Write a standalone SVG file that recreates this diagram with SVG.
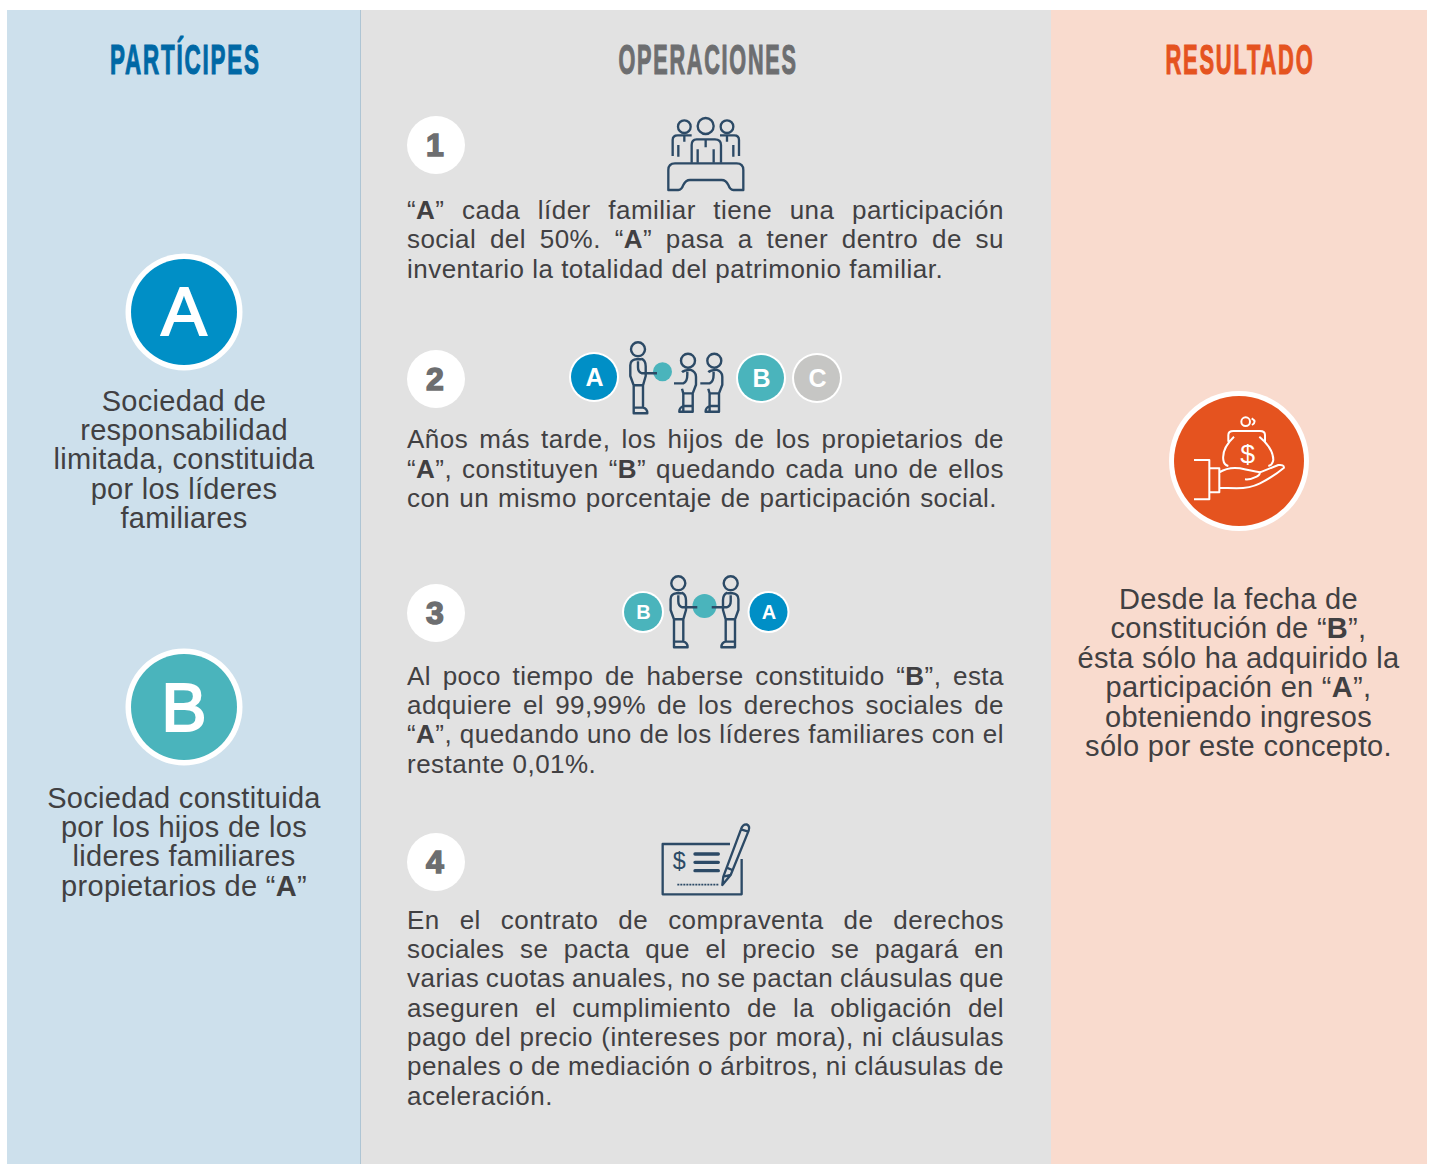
<svg xmlns="http://www.w3.org/2000/svg" width="1432" height="1164" viewBox="0 0 1432 1164">
<style>
text{font-family:"Liberation Sans",Arial,sans-serif}
.b{font-size:26px;letter-spacing:.48px;fill:#414042}
.c{text-anchor:middle;font-size:29px;letter-spacing:.3px}
.s{font-weight:700}
.t{font-size:43px;font-weight:700;letter-spacing:3.5px;stroke-width:1.2px}
.n{font-size:32px;font-weight:700;fill:#6d6e70;stroke:#6d6e70;stroke-width:1.5px;text-anchor:middle}
.w{fill:#fff;text-anchor:middle}
.big{stroke:#fff;stroke-width:2px}
.i{fill:none;stroke:#2c4a66;stroke-width:2.4px;stroke-linejoin:round}
.iz{fill:none;stroke:#2c4a66;stroke-width:7;stroke-linejoin:round}
.wz{fill:none;stroke:#fff;stroke-width:6;stroke-linejoin:round}
</style>
<defs>
<g id="adult" class="i"><circle cx="0" cy="0" r="7"/><path d="M-2.3,10Q-7.7,11-7.7,16V26.7L-4.3,36H5L7.7,26.7V17Q7.7,11 3.3,9.3M-2.3,10H3.3M0,12V18Q0,23 4,24H19M-4.3,36V64H9.3Q9.3,59 5,58.3V36M-4.3,58.3H5"/></g>
<g id="child" class="i"><circle cx="0" cy="0" r="7"/><path d="M-6,11.5Q-4,9.5 2,9Q8,11 8,16V24L4.7,32.7H-4.7L-6,28M-14,22.7H-4.7Q-.7,21-.7,14V11M-4.7,32.7V51H4.7V32.7M-4.7,45.3H4.7M-4.7,45.3Q-8.7,47-8.7,51H-4.7"/></g>
</defs>

<g id="backgrounds">
<rect x="7" y="10" width="354" height="1154" fill="#cde0ec"/>
<rect x="360" y="10" width="1" height="1154" fill="#aec5d4"/>
<rect x="361" y="10" width="690" height="1154" fill="#e2e2e2"/>
<rect x="1051" y="10" width="376" height="1154" fill="#f9dbce"/>
</g>

<g id="titles">
<text class="t" transform="translate(110 74.4) scale(.52 1)" fill="#0068a5" stroke="#0068a5">PARTÍCIPES</text>
<text class="t" transform="translate(618.5 74.4) scale(.503 1)" fill="#6d6e70" stroke="#6d6e70">OPERACIONES</text>
<text class="t" transform="translate(1165.5 74.4) scale(.509 1)" fill="#e5531f" stroke="#e5531f">RESULTADO</text>
</g>

<g id="node-a">
<circle cx="184" cy="312" r="58.5" fill="#fff"/><circle cx="184" cy="312" r="53" fill="#008fc6"/>
<text class="w big" x="184" y="335" font-size="68">A</text>
<text class="b c" x="184" y="411">Sociedad de</text>
<text class="b c" x="184" y="440">responsabilidad</text>
<text class="b c" x="184" y="469">limitada, constituida</text>
<text class="b c" x="184" y="499">por los líderes</text>
<text class="b c" x="184" y="528">familiares</text>
</g>

<g id="node-b">
<circle cx="184" cy="707" r="58.5" fill="#fff"/><circle cx="184" cy="707" r="53" fill="#4ab4bc"/>
<text class="w big" x="184" y="731" font-size="68">B</text>
<text class="b c" x="184" y="808">Sociedad constituida</text>
<text class="b c" x="184" y="837">por los hijos de los</text>
<text class="b c" x="184" y="866">lideres familiares</text>
<text class="b c" x="184" y="896">propietarios de “<tspan class="s">A</tspan>”</text>
</g>

<g id="step-1">
<circle cx="436" cy="145" r="29" fill="#fff"/><text class="n" x="435" y="156">1</text>
<g transform="translate(655 110) scale(.3333)" class="iz">
<circle cx="152" cy="48" r="24"/><circle cx="88" cy="50" r="19"/><circle cx="216" cy="50" r="19"/>
<path d="M110,158V105Q110,88 125,88H180Q198,88 198,105V158M128,118V158M176,118V158M152,90V112M53,138V90Q53,76 68,76H110M70,105V140M88,78V95M195,76H238Q252,76 252,90V138M235,105V140M216,78V95"/>
<path d="M60,160H245Q265,160 265,180V240H235Q225,240 220,225Q213,210 200,210H105Q92,210 85,225Q80,240 70,240H40V180Q40,160 60,160Z"/>
</g>
<text class="b" x="407" y="219" textLength="597" style="word-spacing:9.88px">“<tspan class="s">A</tspan>” cada líder familiar tiene una participación</text>
<text class="b" x="407" y="248" textLength="597" style="word-spacing:6.08px">social del 50%. “<tspan class="s">A</tspan>” pasa a tener dentro de su</text>
<text class="b" x="407" y="278">inventario la totalidad del patrimonio familiar.</text>
</g>

<g id="step-2">
<circle cx="436" cy="379" r="29" fill="#fff"/><text class="n" x="435" y="390">2</text>
<circle cx="594" cy="377" r="25" fill="#fff"/><circle cx="594" cy="377" r="23" fill="#008fc6"/>
<text class="w s" x="594.5" y="386" font-size="25">A</text>
<circle cx="662.5" cy="371.7" r="9.5" fill="#4ab4bc"/>
<use href="#adult" x="638" y="349.3"/>
<use href="#child" x="688" y="360.7"/>
<use href="#child" x="714.3" y="360.7"/>
<circle cx="761" cy="378" r="25" fill="#fff"/><circle cx="761" cy="378" r="23" fill="#4ab4bc"/>
<text class="w s" x="761.5" y="387" font-size="25">B</text>
<circle cx="817" cy="378" r="25" fill="#fff"/><circle cx="817" cy="378" r="23" fill="#c6c6c4"/>
<text class="w s" x="817.5" y="387" font-size="25">C</text>
<text class="b" x="407" y="448" textLength="597" style="word-spacing:3.59px">Años más tarde, los hijos de los propietarios de</text>
<text class="b" x="407" y="478" textLength="597" style="word-spacing:2.3px">“<tspan class="s">A</tspan>”, constituyen “<tspan class="s">B</tspan>” quedando cada uno de ellos</text>
<text class="b" x="407" y="507" textLength="590" style="word-spacing:1.35px">con un mismo porcentaje de participación social.</text>
</g>

<g id="step-3">
<circle cx="436" cy="613" r="29" fill="#fff"/><text class="n" x="435" y="624">3</text>
<circle cx="643" cy="612" r="21" fill="#fff"/><circle cx="643" cy="612" r="19" fill="#4ab4bc"/>
<text class="w s" x="643.5" y="619" font-size="20">B</text>
<circle cx="704.5" cy="606" r="12" fill="#4ab4bc"/>
<use href="#adult" x="678.3" y="583.3"/>
<use href="#adult" transform="translate(730.7 583.3) scale(-1 1)"/>
<circle cx="768.5" cy="612" r="21" fill="#fff"/><circle cx="768.5" cy="612" r="19" fill="#008fc6"/>
<text class="w s" x="769" y="619" font-size="20">A</text>
<text class="b" x="407" y="685" textLength="597" style="word-spacing:3.96px">Al poco tiempo de haberse constituido “<tspan class="s">B</tspan>”, esta</text>
<text class="b" x="407" y="714" textLength="597" style="word-spacing:3.4px">adquiere el 99,99% de los derechos sociales de</text>
<text class="b" x="407" y="743" textLength="597" style="word-spacing:.03px">“<tspan class="s">A</tspan>”, quedando uno de los líderes familiares con el</text>
<text class="b" x="407" y="773">restante 0,01%.</text>
</g>

<g id="step-4">
<circle cx="436" cy="862" r="29" fill="#fff"/><text class="n" x="435" y="873">4</text>
<g transform="translate(640 810) scale(.3333)" class="iz">
<path d="M270,102H68V253H305V147"/>
<path d="M165,132H235M165,157H235M165,182H235" stroke-width="10" stroke-linecap="round"/>
<path d="M112,224H235" stroke-dasharray="6 3" stroke-width="5"/>
<path d="M250,200L303,58Q308,42 320,43Q331,48 326,62L272,195ZM303,58L325,65M258,172L277,180M250,200L247,225L272,195"/>
<text x="118" y="177" font-size="70" fill="#2c4a66" stroke="none" text-anchor="middle">$</text>
</g>
<text class="b" x="407" y="929" textLength="597" style="word-spacing:12.23px">En el contrato de compraventa de derechos</text>
<text class="b" x="407" y="958" textLength="597" style="word-spacing:7.92px">sociales se pacta que el precio se pagará en</text>
<text class="b" x="407" y="987" textLength="597" style="word-spacing:-.94px">varias cuotas anuales, no se pactan cláusulas que</text>
<text class="b" x="407" y="1017" textLength="597" style="word-spacing:8.41px">aseguren el cumplimiento de la obligación del</text>
<text class="b" x="407" y="1046" textLength="597" style="word-spacing:.67px">pago del precio (intereses por mora), ni cláusulas</text>
<text class="b" x="407" y="1075" textLength="597" style="word-spacing:-.33px">penales o de mediación o árbitros, ni cláusulas de</text>
<text class="b" x="407" y="1105">aceleración.</text>
</g>

<g id="result">
<circle cx="1239" cy="461" r="70" fill="#fff"/><circle cx="1239" cy="461" r="65" fill="#e5531f"/>
<g transform="translate(1160 385) scale(.3333)" class="wz">
<circle cx="257" cy="110" r="13"/><path d="M275,100Q292,110 276,120"/>
<path d="M205,170V150Q205,138 220,138H300Q315,138 315,150V170M222,155Q185,190 190,225Q192,240 205,243M298,155Q340,190 340,225Q338,240 325,243"/>
<path d="M102,225H148V343H102M148,250H178V322H148M178,262Q205,245 240,250Q275,258 300,262Q300,270 290,275Q270,285 255,283M300,262L355,240Q372,238 372,248Q340,275 300,295Q270,310 230,310Q200,308 178,308"/>
<text x="263" y="235" font-size="80" fill="#fff" stroke="none" text-anchor="middle">$</text>
</g>
<text class="b c" x="1238.5" y="609">Desde la fecha de</text>
<text class="b c" x="1238.5" y="638">constitución de “<tspan class="s">B</tspan>”,</text>
<text class="b c" x="1238.5" y="668">ésta sólo ha adquirido la</text>
<text class="b c" x="1238.5" y="697">participación en “<tspan class="s">A</tspan>”,</text>
<text class="b c" x="1238.5" y="727">obteniendo ingresos</text>
<text class="b c" x="1238.5" y="756">sólo por este concepto.</text>
</g>
</svg>
